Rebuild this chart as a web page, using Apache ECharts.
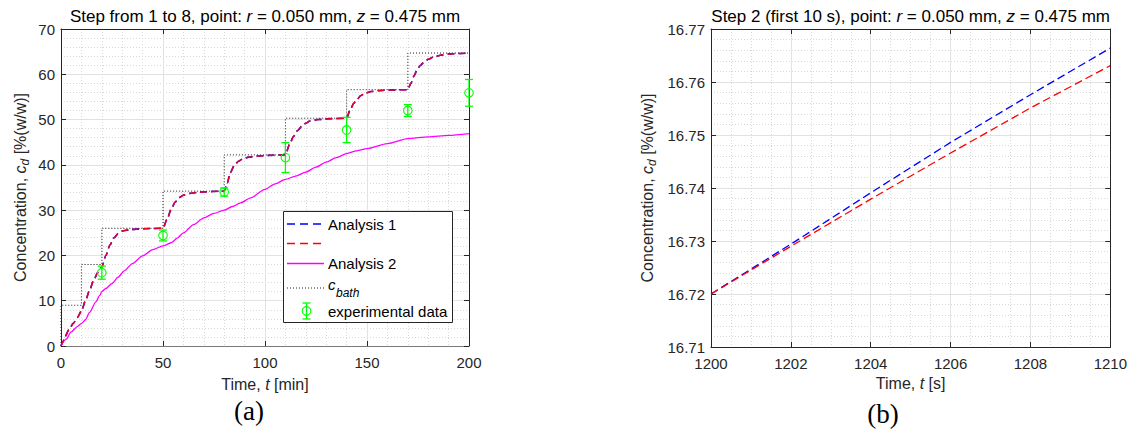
<!DOCTYPE html>
<html>
<head>
<meta charset="utf-8">
<script src="https://cdn.jsdelivr.net/npm/echarts@6/dist/echarts.min.js"></script>
<style>
html,body{margin:0;padding:0;background:#fff;}
#chart{width:1130px;height:430px;}
</style>
</head>
<body>
<div id="chart"></div>
<script>
// ---------- data (a) ----------
const aT = [0,1,2,4,6,8,10,12,14,16,18,20,22,24,26,28,30,34,40,50,
  52,54,56,58,60,63,68,80,
  81.5,83,85,87,89,92,96,102,110,
  112,114,116,118,120,122,126,132,140,
  141.7,143.5,145,147,149,152,156,162,170,
  171.5,173,174.5,176,178,180,183,186,190,195,200];
const analysis1C = [0,1,2.1,3.7,5.0,6.3,7.7,10.0,12.3,14.5,16.2,17.4,20.0,22.3,23.9,24.8,25.4,25.7,25.9,26.0,
  28.0,30.2,31.8,32.8,33.3,33.7,34.0,34.2,
  36.0,38.3,39.9,40.8,41.3,41.7,41.95,42.1,42.2,
  44.5,46.3,47.6,48.5,49.2,49.7,50.0,50.2,50.3,
  52.1,53.6,54.4,55.3,55.8,56.2,56.4,56.55,56.6,
  58.0,59.6,60.9,61.9,62.7,63.3,63.9,64.2,64.5,64.6,64.7];
const analysis1bC = analysis1C; // red dashed curve coincides with Analysis 1 at this scale

const a2T = [0,2.5,5,8,10,12,14,17,19,20,22,25,28,31,35,40,45,50,54,57,
  60,65,70,75,80,84,88,93,100,105,110,115,120,125,130,135,140,145,150,160,
  170,180,190,200];
const analysis2C = [0,1.5,3.1,4.3,5.0,5.8,7.4,9.7,11.2,12.0,12.7,13.8,15.2,16.6,18.2,19.9,21.3,22.1,22.8,23.8,
  25.0,26.8,28.3,29.3,30.0,30.8,31.6,32.7,34.6,35.8,36.8,37.5,38.4,39.5,40.6,41.6,42.5,43.1,43.6,44.7,
  45.8,46.2,46.5,46.9];

const bathT = [0,0,10,20,50,80,110,140,170,200];
const bathC = [0,9,18,26,34.2,42.2,50.3,56.6,64.7,64.7];

const expT = [20,50,80,110,140,170,200];
const expC = [16.2,24.4,34.0,41.6,47.7,52.0,55.9];
const expErr = [1.45,1.2,0.9,3.3,2.8,1.3,2.95];

// ---------- data (b) ----------
const bT = [1200,1202,1204,1206,1208,1210];
const bBlue = [16.72,16.7294,16.7391,16.7486,16.7576,16.7664];
const bRed  = [16.72,16.7290,16.7379,16.7466,16.7551,16.7631];

// ---------- tick settings ----------
const aXTicks = {min:0, max:200, interval:50};
const aYTicks = {min:0, max:70, interval:10};
const bXTicks = {min:1200, max:1210, interval:2};
const bYTicks = {min:16.71, max:16.77, interval:0.01};

const titleA = '{n|Step from 1 to 8, point: }{i|r}{n| = 0.050 mm, }{i|z}{n| = 0.475 mm}';
const titleB = '{n|Step 2 (first 10 s), point: }{i|r}{n| = 0.050 mm, }{i|z}{n| = 0.475 mm}';

const FONT = 'Liberation Sans, Arial, Helvetica, sans-serif';
const SERIF = 'Liberation Serif, Times New Roman, serif';
const AX = '#262626';
const zip = (xs, ys) => xs.map((x,i)=>[x, ys[i]]);

const richName = {
  n:{fontFamily:FONT, fontSize:16, color:AX, lineHeight:22, verticalAlign:'middle'},
  i:{fontFamily:FONT, fontSize:16, color:AX, fontStyle:'italic', lineHeight:22, verticalAlign:'middle'},
  s:{fontFamily:FONT, fontSize:12, color:AX, fontStyle:'italic', lineHeight:10, verticalAlign:'bottom'}
};
const richTitle = {
  n:{fontFamily:FONT, fontSize:17, color:'#000', lineHeight:20, verticalAlign:'middle'},
  i:{fontFamily:FONT, fontSize:17, color:'#000', fontStyle:'italic', lineHeight:20, verticalAlign:'middle'}
};

function mainAxis(gridIndex, ticks, position, name, nameGap, minorSplit, labelFmt, lineColor){
  return {
    type:'value', gridIndex, position, min:ticks.min, max:ticks.max, interval:ticks.interval,
    name, nameLocation:'middle', nameGap, nameTextStyle:{rich:richName},
    axisLine:{show:true, onZero:false, lineStyle:{color:lineColor||AX, width:1}},
    axisTick:{show:true, inside:true, length:5, lineStyle:{color:AX}},
    axisLabel:{show:true, color:AX, fontFamily:FONT, fontSize:15, margin: position==='left'?6:9, formatter:labelFmt},
    splitLine:{show:true, lineStyle:{color:'#e2e2e2', width:1}},
    minorTick:{show:false, splitNumber:minorSplit},
    minorSplitLine:{show:true, lineStyle:{color:'#d8d8d8', width:1, type:[1,2]}}
  };
}
function boxAxis(gridIndex, ticks, position, title){
  const ax = {
    type:'value', gridIndex, position, min:ticks.min, max:ticks.max, interval:ticks.interval,
    axisLine:{show:true, onZero:false, lineStyle:{color:AX, width:1}},
    axisTick:{show:true, inside:true, length:5, lineStyle:{color:AX}},
    axisLabel:{show:false}, splitLine:{show:false}
  };
  if (title) {
    ax.name = title; ax.nameLocation = 'middle'; ax.nameGap = 3;
    ax.nameTextStyle = {rich:richTitle};
  }
  return ax;
}

const legendFont = '15px ' + FONT;

const option = {
  animation:false,
  backgroundColor:'#ffffff',
  grid:[
    {left:61, top:29, width:408, height:317},
    {left:711, top:29, width:400, height:318}
  ],
  xAxis:[
    mainAxis(0, aXTicks, 'bottom', '{n|Time, }{i|t}{n| [min]}', 27, 5, v=>String(v), '#7a7a7a'),
    boxAxis(0, aXTicks, 'top', titleA),
    mainAxis(1, bXTicks, 'bottom', '{n|Time, }{i|t}{n| [s]}', 20, 4, v=>String(v)),
    boxAxis(1, bXTicks, 'top', titleB)
  ],
  yAxis:[
    mainAxis(0, aYTicks, 'left', '{n|Concentration, }{i|c}{s|d}{n| [%(w/w)]}', 30, 5, v=>String(v)),
    boxAxis(0, aYTicks, 'right'),
    mainAxis(1, bYTicks, 'left', '{n|Concentration, }{i|c}{s|d}{n| [%(w/w)]}', 53, 5, v=>v.toFixed(2)),
    boxAxis(1, bYTicks, 'right')
  ],
  series:[
    {name:'Analysis 1', type:'line', xAxisIndex:0, yAxisIndex:0, data:zip(aT, analysis1C),
     showSymbol:false, symbol:'none', smooth:0.25, smoothMonotone:'x',
     lineStyle:{color:'#0000ff', width:1.6, type:[7,4]}, z:3},
    {name:' ', type:'line', xAxisIndex:0, yAxisIndex:0, data:zip(aT, analysis1bC),
     showSymbol:false, symbol:'none', smooth:0.25, smoothMonotone:'x',
     lineStyle:{color:'#e8002a', width:1.5, type:[7,4]}, z:4},
    {name:'Analysis 2', type:'line', xAxisIndex:0, yAxisIndex:0, data:zip(a2T, analysis2C),
     showSymbol:false, symbol:'none', smooth:0.25, smoothMonotone:'x',
     lineStyle:{color:'#ff00ff', width:1.3}, z:3},
    {name:'c_bath', type:'line', xAxisIndex:0, yAxisIndex:0, data:zip(bathT, bathC), step:'end',
     showSymbol:false, symbol:'none', lineStyle:{color:'#222222', width:1, type:[1,2]}, z:2},
    {name:'experimental data', type:'custom', xAxisIndex:0, yAxisIndex:0,
     data:expT.map((t,i)=>[t, expC[i], expErr[i]]), encode:{x:0, y:1}, z:5, clip:false,
     renderItem:function(params, api){
       const x = api.value(0), y = api.value(1), e = api.value(2);
       const c = api.coord([x, y]), t = api.coord([x, y+e]), b = api.coord([x, y-e]);
       const st = {stroke:'#00ff00', lineWidth:1.3, fill:null};
       return {type:'group', children:[
         {type:'line', shape:{x1:t[0], y1:t[1], x2:b[0], y2:b[1]}, style:st},
         {type:'line', shape:{x1:t[0]-4, y1:t[1], x2:t[0]+4, y2:t[1]}, style:st},
         {type:'line', shape:{x1:b[0]-4, y1:b[1], x2:b[0]+4, y2:b[1]}, style:st},
         {type:'circle', shape:{cx:c[0], cy:c[1], r:4.3}, style:{stroke:'#00ff00', lineWidth:1.1, fill:'rgba(0,0,0,0)'}}
       ]};
     }},
    {name:'Analysis 1 (b)', type:'line', xAxisIndex:2, yAxisIndex:2, data:zip(bT, bBlue),
     showSymbol:false, symbol:'none', lineStyle:{color:'#0000ff', width:1.3, type:[8,4]}},
    {name:'Red (b)', type:'line', xAxisIndex:2, yAxisIndex:2, data:zip(bT, bRed),
     showSymbol:false, symbol:'none', lineStyle:{color:'#ff0000', width:1.3, type:[8,4]}}
  ],
  graphic:[
    // panel labels
    {type:'text', x:249, y:411, z:50, style:{text:'(a)', font:'27px ' + SERIF, fill:'#000', align:'center', verticalAlign:'middle'}},
    {type:'text', x:883, y:414, z:50, style:{text:'(b)', font:'27px ' + SERIF, fill:'#000', align:'center', verticalAlign:'middle'}},
    // legend box
    {type:'rect', z:100, shape:{x:283.5, y:211.5, width:169, height:111}, style:{fill:'#ffffff', stroke:'#262626', lineWidth:1}},
    {type:'line', z:101, shape:{x1:287, y1:224, x2:324, y2:224}, style:{stroke:'#0000ff', lineWidth:1.3, lineDash:[8,5]}},
    {type:'text', z:101, x:328, y:224, style:{text:'Analysis 1', font:legendFont, fill:'#000', verticalAlign:'middle'}},
    {type:'line', z:101, shape:{x1:287, y1:243.5, x2:324, y2:243.5}, style:{stroke:'#ff0000', lineWidth:1.3, lineDash:[8,5]}},
    {type:'line', z:101, shape:{x1:287, y1:263.5, x2:324, y2:263.5}, style:{stroke:'#ff00ff', lineWidth:1.3}},
    {type:'text', z:101, x:328, y:263.5, style:{text:'Analysis 2', font:legendFont, fill:'#000', verticalAlign:'middle'}},
    {type:'line', z:101, shape:{x1:287, y1:288, x2:324, y2:288}, style:{stroke:'#222222', lineWidth:1, lineDash:[1,2]}},
    {type:'text', z:101, x:328, y:284, style:{text:'c', font:'italic 15px ' + FONT, fill:'#000', verticalAlign:'middle'}},
    {type:'text', z:101, x:336, y:293, style:{text:'bath', font:'italic 12px ' + FONT, fill:'#000', verticalAlign:'middle'}},
    {type:'line', z:101, shape:{x1:306.5, y1:303, x2:306.5, y2:319}, style:{stroke:'#00ff00', lineWidth:1.3}},
    {type:'line', z:101, shape:{x1:302.5, y1:303, x2:310.5, y2:303}, style:{stroke:'#00ff00', lineWidth:1.3}},
    {type:'line', z:101, shape:{x1:302.5, y1:319, x2:310.5, y2:319}, style:{stroke:'#00ff00', lineWidth:1.3}},
    {type:'circle', z:101, shape:{cx:306.5, cy:311, r:4.3}, style:{stroke:'#00ff00', lineWidth:1.1, fill:'rgba(0,0,0,0)'}},
    {type:'text', z:101, x:328, y:311, style:{text:'experimental data', font:legendFont, fill:'#000', verticalAlign:'middle'}}
  ]
};

const chart = echarts.init(document.getElementById('chart'), null, {renderer:'svg'});
chart.setOption(option);
</script>
</body>
</html>
